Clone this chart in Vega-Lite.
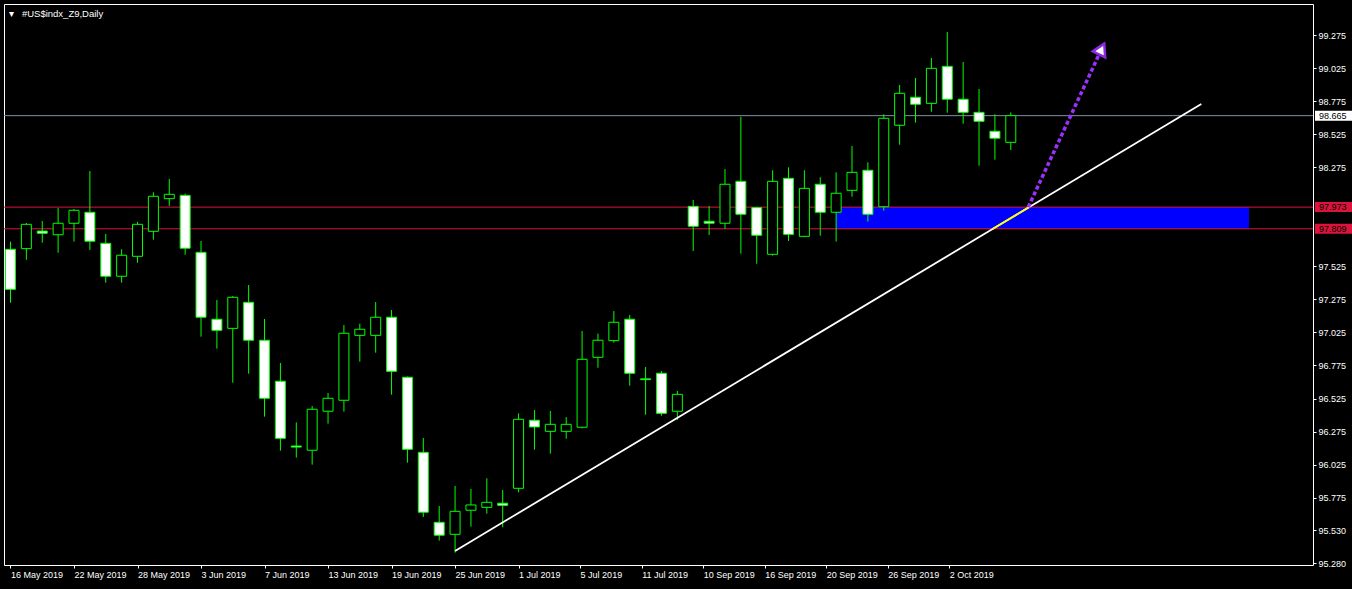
{
  "$schema": "https://vega.github.io/schema/vega-lite/v6.json",
  "width": 1309,
  "height": 561,
  "autosize": {"type": "none"},
  "padding": {"left": 4, "top": 4, "right": 39, "bottom": 24},
  "background": "#000000",
  "config": {
    "view": {"stroke": "#ffffff", "strokeWidth": 1, "fill": "#000000"},
    "font": "Liberation Sans",
    "axis": {"grid": false, "domain": false, "labelColor": "#ffffff", "tickColor": "#ffffff", "labelFont": "Liberation Sans", "labelFontSize": 9, "tickSize": 3, "labelPadding": 2, "labelOverlap": false, "labelFlush": false, "labelBound": false}
  },
  "title": {"text": "▾\u00a0\u00a0\u00a0#US$indx_Z9,Daily", "anchor": "start", "frame": "group", "orient": "top", "offset": -9, "dy": 10, "baseline": "middle", "color": "#ffffff", "fontSize": 9.5, "fontWeight": "normal", "font": "Liberation Sans", "dx": 5},
  "datasets": {
    "candles": [
      {"date": "2019-05-16", "i": 0, "open": 97.654, "high": 97.712, "low": 97.250, "close": 97.351},
      {"date": "2019-05-17", "i": 1, "open": 97.659, "high": 97.853, "low": 97.575, "close": 97.843},
      {"date": "2019-05-20", "i": 2, "open": 97.792, "high": 97.868, "low": 97.704, "close": 97.775},
      {"date": "2019-05-21", "i": 3, "open": 97.764, "high": 97.966, "low": 97.628, "close": 97.851},
      {"date": "2019-05-22", "i": 4, "open": 97.851, "high": 97.959, "low": 97.712, "close": 97.949},
      {"date": "2019-05-23", "i": 5, "open": 97.934, "high": 98.246, "low": 97.649, "close": 97.715},
      {"date": "2019-05-24", "i": 6, "open": 97.699, "high": 97.770, "low": 97.401, "close": 97.450},
      {"date": "2019-05-27", "i": 7, "open": 97.450, "high": 97.654, "low": 97.401, "close": 97.609},
      {"date": "2019-05-28", "i": 8, "open": 97.601, "high": 97.861, "low": 97.553, "close": 97.843},
      {"date": "2019-05-29", "i": 9, "open": 97.790, "high": 98.085, "low": 97.727, "close": 98.055},
      {"date": "2019-05-30", "i": 10, "open": 98.037, "high": 98.186, "low": 97.982, "close": 98.070},
      {"date": "2019-05-31", "i": 11, "open": 98.062, "high": 98.075, "low": 97.613, "close": 97.662},
      {"date": "2019-06-03", "i": 12, "open": 97.631, "high": 97.717, "low": 96.993, "close": 97.140},
      {"date": "2019-06-04", "i": 13, "open": 97.125, "high": 97.271, "low": 96.902, "close": 97.041},
      {"date": "2019-06-05", "i": 14, "open": 97.056, "high": 97.301, "low": 96.645, "close": 97.291},
      {"date": "2019-06-06", "i": 15, "open": 97.253, "high": 97.384, "low": 96.713, "close": 96.966},
      {"date": "2019-06-07", "i": 16, "open": 96.966, "high": 97.127, "low": 96.388, "close": 96.527},
      {"date": "2019-06-10", "i": 17, "open": 96.656, "high": 96.794, "low": 96.131, "close": 96.224},
      {"date": "2019-06-11", "i": 18, "open": 96.166, "high": 96.345, "low": 96.078, "close": 96.158},
      {"date": "2019-06-12", "i": 19, "open": 96.134, "high": 96.469, "low": 96.025, "close": 96.444},
      {"date": "2019-06-13", "i": 20, "open": 96.429, "high": 96.567, "low": 96.335, "close": 96.527},
      {"date": "2019-06-14", "i": 21, "open": 96.512, "high": 97.081, "low": 96.426, "close": 97.019},
      {"date": "2019-06-17", "i": 22, "open": 97.003, "high": 97.091, "low": 96.804, "close": 97.049},
      {"date": "2019-06-18", "i": 23, "open": 97.003, "high": 97.255, "low": 96.872, "close": 97.140},
      {"date": "2019-06-19", "i": 24, "open": 97.140, "high": 97.195, "low": 96.554, "close": 96.731},
      {"date": "2019-06-20", "i": 25, "open": 96.686, "high": 96.692, "low": 96.040, "close": 96.141},
      {"date": "2019-06-21", "i": 26, "open": 96.118, "high": 96.227, "low": 95.629, "close": 95.665},
      {"date": "2019-06-24", "i": 27, "open": 95.589, "high": 95.712, "low": 95.450, "close": 95.491},
      {"date": "2019-06-25", "i": 28, "open": 95.498, "high": 95.864, "low": 95.359, "close": 95.672},
      {"date": "2019-06-26", "i": 29, "open": 95.680, "high": 95.841, "low": 95.556, "close": 95.720},
      {"date": "2019-06-27", "i": 30, "open": 95.702, "high": 95.922, "low": 95.654, "close": 95.740},
      {"date": "2019-06-28", "i": 31, "open": 95.733, "high": 95.833, "low": 95.551, "close": 95.717},
      {"date": "2019-07-01", "i": 32, "open": 95.846, "high": 96.413, "low": 95.816, "close": 96.368},
      {"date": "2019-07-02", "i": 33, "open": 96.361, "high": 96.438, "low": 96.138, "close": 96.310},
      {"date": "2019-07-03", "i": 34, "open": 96.277, "high": 96.431, "low": 96.108, "close": 96.330},
      {"date": "2019-07-04", "i": 35, "open": 96.277, "high": 96.385, "low": 96.221, "close": 96.330},
      {"date": "2019-07-05", "i": 36, "open": 96.308, "high": 97.036, "low": 96.300, "close": 96.822},
      {"date": "2019-07-08", "i": 37, "open": 96.837, "high": 97.016, "low": 96.758, "close": 96.966},
      {"date": "2019-07-09", "i": 38, "open": 96.963, "high": 97.187, "low": 96.948, "close": 97.102},
      {"date": "2019-07-10", "i": 39, "open": 97.125, "high": 97.157, "low": 96.622, "close": 96.716},
      {"date": "2019-07-11", "i": 40, "open": 96.674, "high": 96.764, "low": 96.403, "close": 96.668},
      {"date": "2019-07-12", "i": 41, "open": 96.716, "high": 96.733, "low": 96.395, "close": 96.413},
      {"date": "2019-09-06", "i": 42, "open": 96.429, "high": 96.582, "low": 96.363, "close": 96.557},
      {"date": "2019-09-09", "i": 43, "open": 97.979, "high": 98.027, "low": 97.641, "close": 97.828},
      {"date": "2019-09-10", "i": 44, "open": 97.866, "high": 97.982, "low": 97.762, "close": 97.851},
      {"date": "2019-09-11", "i": 45, "open": 97.851, "high": 98.261, "low": 97.808, "close": 98.146},
      {"date": "2019-09-12", "i": 46, "open": 98.168, "high": 98.657, "low": 97.621, "close": 97.919},
      {"date": "2019-09-13", "i": 47, "open": 97.969, "high": 97.975, "low": 97.545, "close": 97.760},
      {"date": "2019-09-16", "i": 48, "open": 97.616, "high": 98.252, "low": 97.606, "close": 98.168},
      {"date": "2019-09-17", "i": 49, "open": 98.191, "high": 98.274, "low": 97.717, "close": 97.767},
      {"date": "2019-09-18", "i": 50, "open": 97.752, "high": 98.252, "low": 97.745, "close": 98.115},
      {"date": "2019-09-19", "i": 51, "open": 98.146, "high": 98.199, "low": 97.757, "close": 97.934},
      {"date": "2019-09-20", "i": 52, "open": 97.934, "high": 98.236, "low": 97.712, "close": 98.078},
      {"date": "2019-09-23", "i": 53, "open": 98.100, "high": 98.435, "low": 98.052, "close": 98.236},
      {"date": "2019-09-24", "i": 54, "open": 98.252, "high": 98.312, "low": 97.863, "close": 97.919},
      {"date": "2019-09-25", "i": 55, "open": 97.976, "high": 98.675, "low": 97.946, "close": 98.645},
      {"date": "2019-09-26", "i": 56, "open": 98.592, "high": 98.897, "low": 98.445, "close": 98.834},
      {"date": "2019-09-27", "i": 57, "open": 98.804, "high": 98.950, "low": 98.612, "close": 98.751},
      {"date": "2019-09-30", "i": 58, "open": 98.758, "high": 99.101, "low": 98.695, "close": 99.023},
      {"date": "2019-10-01", "i": 59, "open": 99.038, "high": 99.298, "low": 98.687, "close": 98.789},
      {"date": "2019-10-02", "i": 60, "open": 98.789, "high": 99.071, "low": 98.604, "close": 98.690},
      {"date": "2019-10-03", "i": 61, "open": 98.690, "high": 98.867, "low": 98.286, "close": 98.622},
      {"date": "2019-10-04", "i": 62, "open": 98.547, "high": 98.675, "low": 98.332, "close": 98.494},
      {"date": "2019-10-07", "i": 63, "open": 98.463, "high": 98.690, "low": 98.405, "close": 98.665}
    ],
    "levels": [
      {"kind": "bid", "price": 98.665},
      {"kind": "line", "price": 97.973},
      {"kind": "line", "price": 97.809}
    ],
    "zone": [{"i_start": 52, "i_end": 78, "top": 97.973, "bottom": 97.809}],
    "trend": [{"i": 28, "price": 95.372}, {"i": 75, "price": 98.753}],
    "trend_zone": [{"i": 61.88, "price": 97.809}, {"i": 64.16, "price": 97.973}],
    "arrow": [{"point": "start", "i": 64.1, "price": 97.973}, {"point": "end", "i": 68.72, "price": 99.169}]
  },
  "layer": [
    {
      "data": {"name": "zone"},
      "mark": {"type": "rect", "color": "#0000ff"},
      "encoding": {
        "x": {
          "field": "i_start", "type": "quantitative", "title": null,
          "scale": {"domain": [-0.09375, 81.71875], "nice": false, "zero": false},
          "axis": {
            "orient": "bottom", "title": null, "labelOverlap": false,
            "values": [0, 4, 8, 12, 16, 20, 24, 28, 32, 35.875, 39.75, 43.625, 47.5, 51.375, 55.25, 59.125],
            "labelExpr": "['16 May 2019','22 May 2019','28 May 2019','3 Jun 2019','7 Jun 2019','13 Jun 2019','19 Jun 2019','25 Jun 2019','1 Jul 2019','5 Jul 2019','11 Jul 2019','10 Sep 2019','16 Sep 2019','20 Sep 2019','26 Sep 2019','2 Oct 2019'][datum.value < 32.5 ? round(datum.value / 4) : round((datum.value - 32) / 3.875) + 8]",
            "labelAlign": "left"
          }
        },
        "x2": {"field": "i_end"},
        "y": {
          "field": "top", "type": "quantitative", "title": null,
          "scale": {"domain": [95.2659, 99.5095], "nice": false, "zero": false},
          "axis": {
            "orient": "right", "title": null, "labelOverlap": false,
            "values": [99.275, 99.025, 98.775, 98.525, 98.275, 97.525, 97.275, 97.025, 96.775, 96.525, 96.275, 96.025, 95.775, 95.53, 95.28],
            "format": ".3f"
          }
        },
        "y2": {"field": "bottom"}
      }
    },
    {
      "data": {"name": "levels"},
      "mark": {"type": "rule", "strokeWidth": 1},
      "encoding": {
        "y": {"field": "price", "type": "quantitative", "title": null, "scale": {"domain": [95.2659, 99.5095], "nice": false, "zero": false}},
        "color": {"field": "kind", "type": "nominal", "scale": {"domain": ["bid", "line"], "range": ["#7f8ea0", "#dc143c"]}, "legend": null}
      }
    },
    {
      "data": {"name": "candles"},
      "mark": {"type": "rule", "color": "#00ff00", "strokeWidth": 1, "clip": true},
      "encoding": {
        "x": {"field": "i", "type": "quantitative", "title": null, "scale": {"domain": [-0.09375, 81.71875], "nice": false, "zero": false}},
        "y": {"field": "low", "type": "quantitative", "title": null, "scale": {"domain": [95.2659, 99.5095], "nice": false, "zero": false}},
        "y2": {"field": "high"}
      }
    },
    {
      "data": {"name": "candles"},
      "mark": {"type": "bar", "size": 10, "stroke": "#00ff00", "strokeWidth": 1, "clip": true},
      "encoding": {
        "x": {"field": "i", "type": "quantitative", "title": null, "scale": {"domain": [-0.09375, 81.71875], "nice": false, "zero": false}},
        "y": {"field": "open", "type": "quantitative", "title": null, "scale": {"domain": [95.2659, 99.5095], "nice": false, "zero": false}},
        "y2": {"field": "close"},
        "fill": {"condition": {"test": "datum.close < datum.open", "value": "#ffffff"}, "value": "#000000"}
      }
    },
    {
      "data": {"name": "trend"},
      "mark": {"type": "line", "color": "#ffffff", "strokeWidth": 1.8},
      "encoding": {
        "x": {"field": "i", "type": "quantitative", "title": null, "scale": {"domain": [-0.09375, 81.71875], "nice": false, "zero": false}},
        "y": {"field": "price", "type": "quantitative", "title": null, "scale": {"domain": [95.2659, 99.5095], "nice": false, "zero": false}}
      }
    },
    {
      "data": {"name": "trend_zone"},
      "mark": {"type": "line", "color": "#ffff00", "strokeWidth": 1.8},
      "encoding": {
        "x": {"field": "i", "type": "quantitative", "title": null, "scale": {"domain": [-0.09375, 81.71875], "nice": false, "zero": false}},
        "y": {"field": "price", "type": "quantitative", "title": null, "scale": {"domain": [95.2659, 99.5095], "nice": false, "zero": false}}
      }
    },
    {
      "data": {"name": "arrow"},
      "mark": {"type": "line", "color": "#9b30ff", "strokeWidth": 3.5, "strokeDash": [4, 2.5]},
      "encoding": {
        "x": {"field": "i", "type": "quantitative", "title": null, "scale": {"domain": [-0.09375, 81.71875], "nice": false, "zero": false}},
        "y": {"field": "price", "type": "quantitative", "title": null, "scale": {"domain": [95.2659, 99.5095], "nice": false, "zero": false}}
      }
    },
    {
      "data": {"name": "arrow"},
      "transform": [{"filter": "datum.point === 'end'"}],
      "mark": {"type": "point", "shape": "triangle-up", "angle": 26, "size": 190, "filled": true, "fill": "#ffffff", "stroke": "#8a2be2", "strokeWidth": 2.5, "opacity": 1},
      "encoding": {
        "x": {"field": "i", "type": "quantitative", "title": null, "scale": {"domain": [-0.09375, 81.71875], "nice": false, "zero": false}},
        "y": {"field": "price", "type": "quantitative", "title": null, "scale": {"domain": [95.2659, 99.5095], "nice": false, "zero": false}}
      }
    },
    {
      "data": {"name": "levels"},
      "mark": {"type": "rect", "xOffset": 2, "x2Offset": 39, "yOffset": -5, "y2Offset": 5},
      "encoding": {
        "x": {"value": "width"},
        "x2": {"value": "width"},
        "y": {"field": "price", "type": "quantitative", "title": null, "scale": {"domain": [95.2659, 99.5095], "nice": false, "zero": false}},
        "y2": {"field": "price"},
        "fill": {"field": "kind", "type": "nominal", "scale": {"domain": ["bid", "line"], "range": ["#ffffff", "#dc143c"]}, "legend": null}
      }
    },
    {
      "data": {"name": "levels"},
      "mark": {"type": "text", "dx": 6, "align": "left", "baseline": "middle", "fontSize": 9, "font": "Liberation Sans", "color": "#000000"},
      "encoding": {
        "x": {"value": "width"},
        "y": {"field": "price", "type": "quantitative", "title": null, "scale": {"domain": [95.2659, 99.5095], "nice": false, "zero": false}},
        "text": {"field": "price", "type": "quantitative", "format": ".3f"}
      }
    }
  ]
}
